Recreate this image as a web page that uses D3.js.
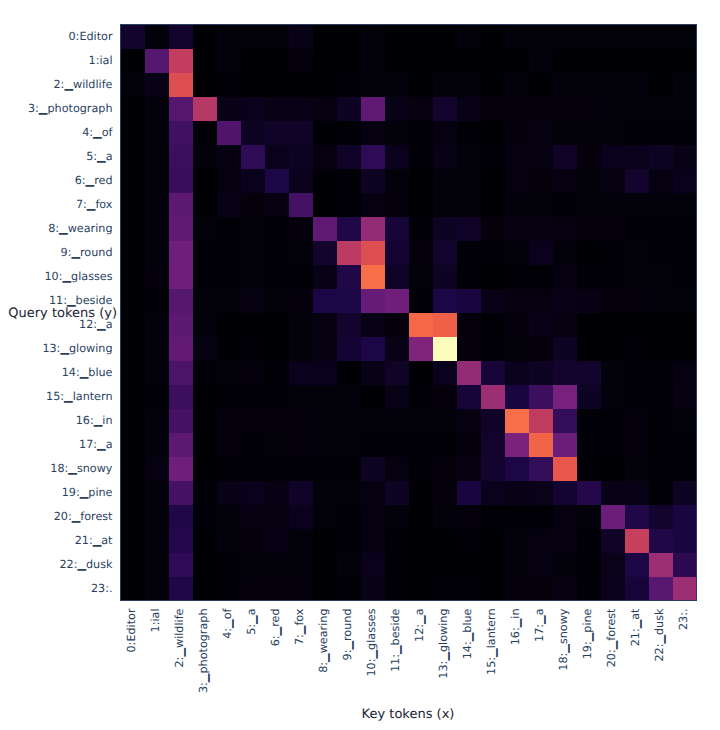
<!DOCTYPE html>
<html><head><meta charset="utf-8">
<script src="https://cdn.jsdelivr.net/npm/d3@7/dist/d3.min.js"></script>
<style>html,body{margin:0;padding:0;background:#fff}svg{display:block;text-rendering:geometricPrecision}</style>
</head><body><svg id="c" width="720" height="730"></svg>
<script>
const tokens = ["0:Editor","1:ial","2:▁wildlife","3:▁photograph","4:▁of","5:▁a","6:▁red","7:▁fox","8:▁wearing","9:▁round","10:▁glasses","11:▁beside","12:▁a","13:▁glowing","14:▁blue","15:▁lantern","16:▁in","17:▁a","18:▁snowy","19:▁pine","20:▁forest","21:▁at","22:▁dusk","23:."];
const row00=[.07,.01,.07,0,.01,.01,.01,.03,0,0,.01,0,0,0,.01,0,.01,.01,.01,.01,.01,.01,.01,.01];
const row01=[0,.25,.54,0,.01,0,0,.015,0,0,.01,0,0,0,0,0,0,.01,0,0,0,0,0,0];
const row02=[.01,.03,.62,0,.005,0,0,0,0,.005,.01,.01,0,.01,.01,0,.01,0,.01,.01,.01,.01,0,.01];
const row03=[0,.01,.25,.5,.03,.04,.03,.03,.02,.05,.28,.03,.02,.07,.03,.015,.015,.015,.015,.015,.01,.01,.01,.01];
const row04=[0,.01,.2,.005,.24,.05,.06,.06,0,.005,.02,.01,.005,.02,.005,0,.015,.02,.01,.01,.01,.005,.005,.005];
const row05=[0,.01,.19,.01,.02,.16,.04,.05,.02,.06,.16,.04,.005,.03,.01,.005,.02,.02,.06,.015,.04,.04,.05,.03];
const row06=[0,.01,.18,0,.02,.04,.11,.04,0,.005,.05,.01,0,.01,.01,0,.02,.015,.02,.01,.02,.07,.02,.04];
const row07=[0,.01,.27,0,.03,.015,.02,.21,0,.005,.02,.015,0,.01,.01,0,.01,.01,.005,.01,.01,.01,.01,.01];
const row08=[0,.01,.28,.01,.005,.01,.005,.015,.28,.12,.41,.09,.005,.05,.06,.015,.02,.02,.02,.015,.015,.005,.005,.005];
const row09=[0,.01,.32,.005,.005,.01,.005,.01,.07,.52,.62,.08,.015,.07,.005,.005,.01,.04,.01,0,.005,.01,.005,.005];
const row10=[0,.015,.32,.005,.005,.01,.005,.005,.03,.12,.73,.06,.01,.05,.005,0,.005,.005,.02,.005,.005,.01,.01,.005];
const row11=[0,.005,.25,.01,.01,.02,.01,.015,.11,.11,.3,.32,.005,.11,.1,.03,.02,.02,.03,.025,.015,.015,.01,.01];
const row12=[0,.01,.27,.01,0,0,0,.01,.02,.07,.03,.015,.71,.69,.015,.005,.015,.03,.02,0,0,0,0,0];
const row13=[0,.01,.29,.02,0,.005,0,.01,.02,.08,.11,.03,.36,1,.015,.005,.01,.015,.05,0,0,.005,0,0];
const row14=[0,.01,.23,.005,.01,.015,.005,.04,.04,0,.03,.06,0,.04,.41,.09,.04,.05,.07,.07,.01,.005,.005,.02];
const row15=[0,.005,.19,0,.005,.005,.005,.01,.01,.01,0,.03,.005,.015,.09,.43,.1,.19,.34,.05,.01,.005,.005,.025];
const row16=[0,.01,.21,0,.015,.015,.015,.015,.01,.01,.01,.01,.01,.01,.02,.06,.73,.53,.17,.005,.005,.015,.005,.01];
const row17=[0,.01,.27,0,.015,.005,.01,.015,.01,.01,.005,.005,.005,.005,.015,.07,.35,.7,.31,.005,.005,.015,.005,.005];
const row18=[0,.02,.32,0,.005,.005,.005,.005,.005,.005,.05,.02,.005,.015,.02,.07,.11,.17,.66,.005,0,.01,.005,.005];
const row19=[0,.01,.21,.005,.03,.04,.025,.06,.01,.01,.02,.05,0,.015,.1,.04,.03,.035,.08,.13,.03,.03,.005,.05];
const row20=[0,.01,.12,.005,.01,.025,.02,.04,.01,.005,.02,.01,0,.01,.015,.005,.005,.005,.02,.01,.31,.12,.07,.1];
const row21=[0,.01,.13,0,.01,.015,.025,.01,0,.005,.02,.005,0,0,.005,0,.01,.02,.02,.005,.06,.55,.12,.1];
const row22=[0,.01,.16,0,.005,.01,.01,.01,0,.01,.04,.005,0,0,0,0,.01,.025,.01,.005,.035,.11,.43,.15];
const row23=[0,.01,.12,0,.005,.015,.015,.015,0,.005,.03,.005,0,.005,.005,0,.015,.015,.02,.005,.04,.09,.26,.43];
const matrix=[row00,row01,row02,row03,row04,row05,row06,row07,row08,row09,row10,row11,row12,row13,row14,row15,row16,row17,row18,row19,row20,row21,row22,row23];
const colorDomain=[0,.11,.22,.33,.44,.55,.66,.72,.85,1];
const colorRange=["#000004","#1c0645","#481268","#731f7e","#a02f72","#c63f5c","#e9574c","#f76a46","#fdb070","#fcfdbb"];
const xTitle="Key tokens (x)", yTitle="Query tokens (y)";

const svg=d3.select("#c");
const L=120.5,T=24.5,R=696.5,B=600.5;
const x=d3.scaleBand().domain(d3.range(24)).range([L,R]);
const y=d3.scaleBand().domain(d3.range(24)).range([T,B]);
const color=d3.scaleLinear().domain(colorDomain).range(colorRange).clamp(true);
const font="'DejaVu Sans',sans-serif";
matrix.forEach((r,i)=>{
  svg.append("g").selectAll("rect").data(r).join("rect")
    .attr("x",(d,j)=>x(j)).attr("y",y(i)).attr("width",x.bandwidth()).attr("height",y.bandwidth())
    .attr("fill",d=>color(d)).attr("shape-rendering","crispEdges");
});
svg.append("rect").attr("x",L).attr("y",T).attr("width",R-L).attr("height",B-T)
  .attr("fill","none").attr("stroke","#2a3f5f").attr("stroke-width",1);
const ay=svg.append("g").attr("transform",`translate(${L},-0.5)`)
  .call(d3.axisLeft(y).tickSize(0).tickPadding(8).tickFormat(i=>tokens[i]));
ay.select(".domain").remove();
const ax=svg.append("g").attr("transform",`translate(-0.8,${B})`)
  .call(d3.axisBottom(x).tickSize(0).tickPadding(8).tickFormat(i=>tokens[i]));
ax.select(".domain").remove();
ax.selectAll("text").attr("transform","rotate(-90)").attr("text-anchor","end")
  .attr("x",-8).attr("y",0).attr("dy","0.32em");
svg.selectAll(".tick text").attr("font-family",font).attr("font-size",11.2).attr("fill","#2a3f5f");
svg.append("text").attr("x",408).attr("y",718).attr("text-anchor","middle")
  .attr("font-family",font).attr("font-size",13).attr("fill","#1a2433").text(xTitle);
svg.append("text").attr("x",117).attr("y",317).attr("text-anchor","end")
  .attr("font-family",font).attr("font-size",13).attr("fill","#1a2433").text(yTitle);
</script></body></html>
